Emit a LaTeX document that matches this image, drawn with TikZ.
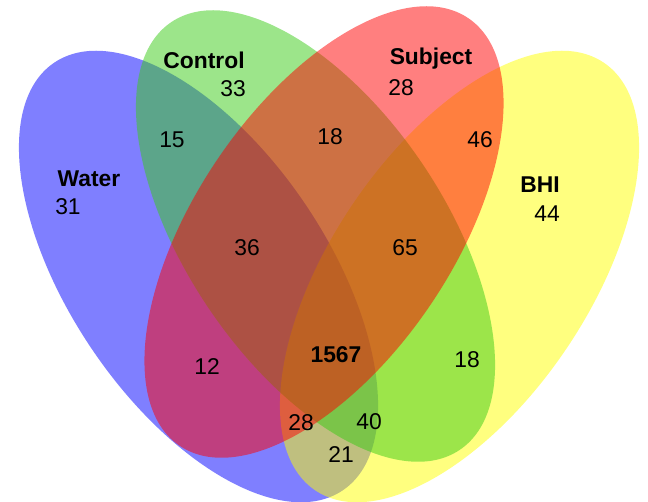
\documentclass[tikz,border=0pt]{standalone}
\usepackage{fontspec}
\setmainfont{Liberation Sans}
\usepackage{tikz}
\usetikzlibrary{positioning}

\definecolor{waterblue}{RGB}{0,0,255}
\definecolor{controlgreen}{RGB}{57,203,21}
\definecolor{subjectred}{RGB}{255,0,0}
\definecolor{bhiyellow}{RGB}{255,255,0}

\tikzset{
  setfill/.style={fill=#1, fill opacity=0.5},
  setname/.style={font=\fontsize{13}{15}\selectfont\bfseries, inner sep=0pt},
  count/.style={font=\fontsize{13}{15}\selectfont, inner sep=0pt}
}

\begin{document}
\begin{tikzpicture}[x=0.02cm, y=-0.02cm]
  \useasboundingbox (0,0) rectangle (648,502);
  %% The four sets, drawn in order
  \fill[setfill=waterblue]    (198.5,276.5) ellipse [x radius=5.16cm, y radius=2.58cm, rotate=-56];
  \fill[setfill=bhiyellow]    (459.5,276.5) ellipse [x radius=5.16cm, y radius=2.58cm, rotate=56];
  \fill[setfill=controlgreen] (315.5,236)   ellipse [x radius=5.16cm, y radius=2.58cm, rotate=-56];
  \fill[setfill=subjectred]   (324,232)     ellipse [x radius=5.16cm, y radius=2.58cm, rotate=56];
  %% Set names
  \node[setname] (water)   at (89,179)  {Water};
  \node[setname] (control) at (204,60)  {Control};
  \node[setname] (subject) at (431,59)  {Subject};
  \node[setname] (bhi)     at (540,185) {BHI};
  %% Region counts
  \node[count] (nW)    at (68,207)  {31};
  \node[count] (nC)    at (233,89)  {33};
  \node[count] (nS)    at (401,88)  {28};
  \node[count] (nB)    at (547,214) {44};
  \node[count] (nWC)   at (172,140) {15};
  \node[count] (nCS)   at (330,137) {18};
  \node[count] (nSB)   at (480,140) {46};
  \node[count] (nWCS)  at (247,248) {36};
  \node[count] (nCSB)  at (405,248) {65};
  \node[count] (nWS)   at (207,367) {12};
  \node[count] (nCB)   at (467,360) {18};
  \node[count, font=\fontsize{13}{15}\selectfont\bfseries] (nAll) at (336,355) {1567};
  \node[count] (nWSB)  at (301,423) {28};
  \node[count] (nWCB)  at (369,422) {40};
  \node[count] (nWB)   at (341,455) {21};
\end{tikzpicture}
\end{document}
